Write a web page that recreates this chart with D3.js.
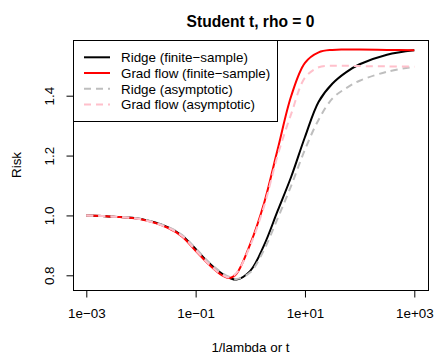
<!DOCTYPE html>
<html>
<head>
<meta charset="utf-8">
<script src="https://cdn.jsdelivr.net/npm/d3@7"></script>
<style>
  body { margin: 0; background: #fff; }
  text { font-family: "Liberation Sans", Arial, sans-serif; }
</style>
</head>
<body>
<div id="vis"></div>
<script>
// x grid (1/lambda or t)
var xs = [0.001, 0.00316, 0.01, 0.0316, 0.0562, 0.1, 0.178, 0.316, 0.422, 0.562, 1,
          1.78, 3.16, 5.62, 10, 17.8, 31.6, 56.2, 100, 316, 1000];

var ridgeFinite = [1.000, 0.996, 0.988, 0.960, 0.933, 0.888, 0.840, 0.803, 0.791, 0.786, 0.815,
                   0.900, 1.015, 1.130, 1.262, 1.380, 1.440, 1.478, 1.505, 1.537, 1.552];
var gradFinite  = [1.000, 0.996, 0.987, 0.958, 0.930, 0.882, 0.835, 0.798, 0.791, 0.806, 0.905,
                   1.040, 1.220, 1.400, 1.510, 1.545, 1.553, 1.554, 1.554, 1.553, 1.552];
var ridgeAsym   = [1.000, 0.996, 0.988, 0.961, 0.935, 0.890, 0.843, 0.806, 0.794, 0.788, 0.810,
                   0.885, 0.990, 1.100, 1.220, 1.320, 1.390, 1.425, 1.450, 1.480, 1.497];
var gradAsym    = [1.000, 0.996, 0.987, 0.958, 0.931, 0.884, 0.836, 0.800, 0.793, 0.808, 0.900,
                   1.030, 1.200, 1.340, 1.460, 1.495, 1.500, 1.500, 1.499, 1.498, 1.497];

var xTicks = [1e-3, 1e-1, 1e1, 1e3];
var xTickLabels = ["1e\u221203", "1e\u221201", "1e+01", "1e+03"];
var yTicks = [0.8, 1.0, 1.2, 1.4];
var yTickLabels = ["0.8", "1.0", "1.2", "1.4"];

var legendLabels = ["Ridge (finite\u2212sample)", "Grad flow (finite\u2212sample)",
                    "Ridge (asymptotic)", "Grad flow (asymptotic)"];

var w = 444, h = 363;
var box = {left: 73, right: 428, top: 40, bottom: 290};
var fs = 13.4;

var svg = d3.select("#vis").append("svg")
  .attr("width", w)
  .attr("height", h);

var x = d3.scaleLog().domain([1e-3, 1e3]).range([86.3, 414.3]);
var y = d3.scaleLinear().domain([0.8, 1.4]).range([275.3, 95.7]);

var series = [
  {vals: ridgeFinite, color: "#000000", dash: null},
  {vals: gradFinite,  color: "#FF0000", dash: null},
  {vals: ridgeAsym,   color: "#BEBEBE", dash: "7,5"},
  {vals: gradAsym,    color: "#FFC0CB", dash: "7,5"}
];

var line = d3.line()
  .x(function(d){ return x(d[0]); })
  .y(function(d){ return y(d[1]); })
  .curve(d3.curveCatmullRom.alpha(0.5));

svg.append("g").selectAll("path")
  .data(series)
  .enter()
  .append("path")
  .attr("d", function(s){ return line(xs.map(function(v, i){ return [v, s.vals[i]]; })); })
  .attr("fill", "none")
  .attr("stroke", function(s){ return s.color; })
  .attr("stroke-width", 2)
  .attr("stroke-dasharray", function(s){ return s.dash; });

// plot frame
svg.append("rect")
  .attr("x", box.left + 0.5).attr("y", box.top + 0.5)
  .attr("width", box.right - box.left).attr("height", box.bottom - box.top)
  .attr("fill", "none").attr("stroke", "#000");

// x axis
var xAxis = d3.axisBottom(x)
  .tickValues(xTicks)
  .tickSize(7)
  .tickPadding(11)
  .tickFormat(function(d, i){ return xTickLabels[i]; });

var gx = svg.append("g")
  .attr("transform", "translate(0," + (box.bottom + 0.5) + ")")
  .call(xAxis);
gx.select(".domain")
  .attr("d", "M" + x(xTicks[0]) + ",0H" + x(xTicks[3]));
gx.selectAll("text").attr("font-size", fs).attr("fill", "#000")
  .attr("font-family", "Liberation Sans, Arial, sans-serif");

// y axis
var yAxis = d3.axisLeft(y)
  .tickValues(yTicks)
  .tickSize(7)
  .tickFormat(function(d, i){ return yTickLabels[i]; });

var gy = svg.append("g")
  .attr("transform", "translate(" + (box.left + 0.5) + ",0)")
  .call(yAxis);
gy.select(".domain")
  .attr("d", "M0," + y(yTicks[0]) + "V" + y(yTicks[3]));
gy.selectAll(".tick text")
  .attr("font-size", fs).attr("fill", "#000")
  .attr("font-family", "Liberation Sans, Arial, sans-serif")
  .attr("x", null).attr("dy", null)
  .attr("text-anchor", "middle")
  .attr("transform", "translate(-20,0) rotate(-90)");

// legend
var lg = svg.append("g");
lg.append("rect")
  .attr("x", box.left + 0.5).attr("y", box.top + 0.5)
  .attr("width", 204).attr("height", 81)
  .attr("fill", "#fff").attr("stroke", "#000");

var rows = lg.selectAll("g.row")
  .data(series)
  .enter()
  .append("g")
  .attr("class", "row")
  .attr("transform", function(d, i){ return "translate(0," + (57.3 + i * 15.7) + ")"; });

rows.append("line")
  .attr("x1", 84).attr("x2", 110)
  .attr("stroke", function(d){ return d.color; })
  .attr("stroke-width", 2)
  .attr("stroke-dasharray", function(d){ return d.dash; });

rows.append("text")
  .attr("x", 121).attr("y", 4.8)
  .attr("font-size", fs)
  .text(function(d, i){ return legendLabels[i]; });

// titles
svg.append("text")
  .attr("x", (box.left + box.right) / 2).attr("y", 27)
  .attr("text-anchor", "middle")
  .attr("font-size", 15.6).attr("font-weight", "bold")
  .text("Student t, rho = 0");

svg.append("text")
  .attr("x", (box.left + box.right) / 2).attr("y", 352)
  .attr("text-anchor", "middle")
  .attr("font-size", fs)
  .text("1/lambda or t");

svg.append("text")
  .attr("transform", "translate(21,165) rotate(-90)")
  .attr("text-anchor", "middle")
  .attr("font-size", fs)
  .text("Risk");
</script>
</body>
</html>
